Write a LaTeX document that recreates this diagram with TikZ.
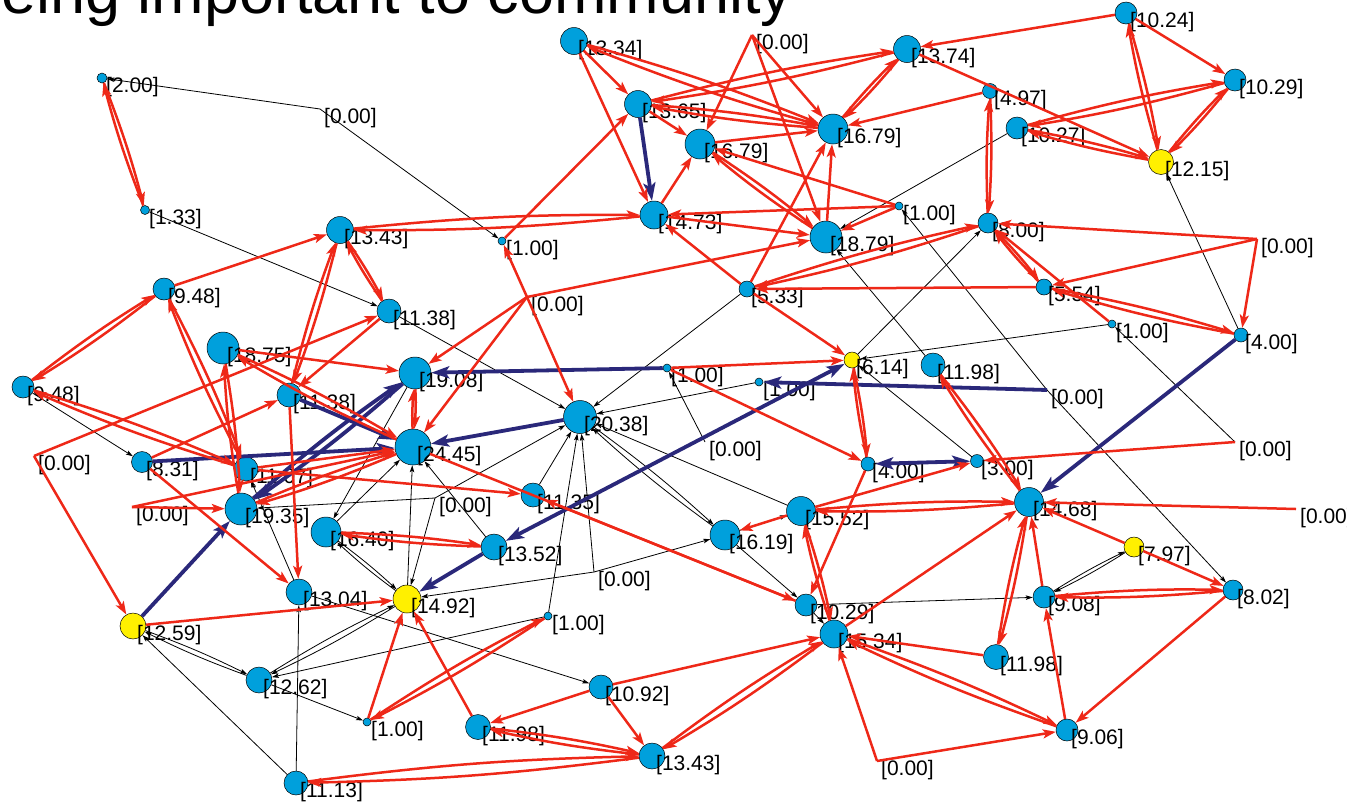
\documentclass[tikz,border=0pt]{standalone}
\usepackage{fontspec}
\setmainfont{Liberation Sans}
\usetikzlibrary{arrows.meta}
\definecolor{nblue}{RGB}{0,160,220}
\definecolor{nyel}{RGB}{255,240,0}
\definecolor{ered}{RGB}{238,40,24}
\definecolor{enavy}{RGB}{42,40,122}
\pgfdeclarelayer{bg}\pgfdeclarelayer{mid}\pgfsetlayers{bg,mid,main}
\tikzset{
 gnode/.style={circle,draw=black,line width=0.5pt,inner sep=0pt},
 lab/.style={anchor=west,inner sep=0pt,font=\fontsize{21}{21}\selectfont,text=black},
 re/.style={draw=ered,line width=2.5pt,-{Stealth[length=13pt,width=9pt,inset=3pt]}},
 ne/.style={draw=enavy,line width=3.8pt,-{Stealth[length=18pt,width=12pt,inset=4pt]}},
 nb/.style={draw=enavy,line width=3.8pt,{Stealth[length=18pt,width=12pt,inset=4pt]}-{Stealth[length=18pt,width=12pt,inset=4pt]}},
 be/.style={draw=black,line width=0.8pt,-{Stealth[length=7pt,width=4.5pt,inset=1.5pt]}},
}
\newcommand{\nd}[6]{%
\begin{pgfonlayer}{bg}\node[gnode,fill=#6,minimum size=#4pt] (#1) at (#2,#3) {};\end{pgfonlayer}%
\begin{pgfonlayer}{mid}\node[lab] (#1l) at (#2+4,#3+9) {[#5]};\end{pgfonlayer}}
\newcommand{\zn}[3]{\coordinate (#1) at (#2,#3);%
\begin{pgfonlayer}{mid}\node[lab] (#1l) at (#2+4,#3+9) {[0.00]};\end{pgfonlayer}}
\newcommand{\pr}[3]{\draw[#1] (#2) to[bend left=3] (#3); \draw[#1] (#3) to[bend left=3] (#2);}
\begin{document}
\begin{tikzpicture}[x=1pt,y=-1pt]
\useasboundingbox (0,0) rectangle (1347,801);
\node[anchor=base west,inner sep=0pt,font=\fontsize{63}{63}\selectfont] (title) at (1,13) {eing important to community};
% nodes
\nd{a}{102}{78}{10}{2.00}{nblue}
\nd{b}{145}{210}{9}{1.33}{nblue}
\nd{c}{340}{230}{27}{13.43}{nblue}
\nd{d}{164}{289}{22}{9.48}{nblue}
\nd{e}{389}{311}{24}{11.38}{nblue}
\nd{f}{223}{348}{32}{18.75}{nblue}
\nd{g}{415}{373}{32}{19.08}{nblue}
\nd{h}{23}{387}{22}{9.48}{nblue}
\nd{i}{289}{395}{24}{11.38}{nblue}
\nd{j}{574}{41}{27}{13.34}{nblue}
\nd{k}{638}{104}{27}{13.65}{nblue}
\nd{l}{700}{144}{30}{16.79}{nblue}
\nd{m}{833}{129}{30}{16.79}{nblue}
\nd{n}{654}{215}{28}{14.73}{nblue}
\nd{o}{826}{237}{32}{18.79}{nblue}
\nd{p}{502}{241}{8}{1.00}{nblue}
\nd{q}{747}{289}{16}{5.33}{nblue}
\nd{r}{852}{360}{16}{6.14}{nyel}
\nd{s}{667}{368}{8}{1.00}{nblue}
\nd{t}{759}{382}{8}{1.00}{nblue}
\nd{u}{580}{417}{33}{20.38}{nblue}
\nd{v}{899}{206}{8}{1.00}{nblue}
\nd{w}{1126}{13}{22}{10.24}{nblue}
\nd{x}{907}{49}{27}{13.74}{nblue}
\nd{y}{990}{91}{15}{4.97}{nblue}
\nd{A}{1235}{80}{22}{10.29}{nblue}
\nd{B}{1017}{128}{22}{10.27}{nblue}
\nd{C}{1161}{162}{25}{12.15}{nyel}
\nd{D}{988}{223}{20}{8.00}{nblue}
\nd{E}{1044}{287}{16}{5.54}{nblue}
\nd{F}{1112}{324}{8}{1.00}{nblue}
\nd{G}{1241}{335}{14}{4.00}{nblue}
\nd{H}{933}{365}{24}{11.98}{nblue}
\nd{I}{142}{462}{21}{8.31}{nblue}
\nd{J}{246}{469}{24}{11.07}{nblue}
\nd{K}{413}{447}{36}{24.45}{nblue}
\nd{L}{241}{509}{32}{19.35}{nblue}
\nd{M}{326}{532}{30}{16.40}{nblue}
\nd{N}{299}{592}{26}{13.04}{nblue}
\nd{O}{407}{599}{28}{14.92}{nyel}
\nd{P}{133}{626}{26}{12.59}{nyel}
\nd{Q}{259}{680}{26}{12.62}{nblue}
\nd{R}{367}{722}{8}{1.00}{nblue}
\nd{S}{296}{783}{24}{11.13}{nblue}
\nd{T}{533}{495}{24}{11.35}{nblue}
\nd{U}{494}{547}{26}{13.52}{nblue}
\nd{V}{548}{616}{8}{1.00}{nblue}
\nd{W}{725}{535}{30}{16.19}{nblue}
\nd{X}{801}{511}{29}{15.52}{nblue}
\nd{Y}{806}{605}{22}{10.29}{nblue}
\nd{Z}{834}{634}{28}{15.34}{nblue}
\nd{aa}{601}{687}{24}{10.92}{nblue}
\nd{bb}{478}{727}{25}{11.98}{nblue}
\nd{cc}{652}{756}{26}{13.43}{nblue}
\nd{dd}{868}{464}{14}{4.00}{nblue}
\nd{ee}{977}{461}{13}{3.00}{nblue}
\nd{ff}{1029}{502}{29}{14.68}{nblue}
\nd{gg}{1134}{547}{20}{7.97}{nyel}
\nd{hh}{1044}{597}{22}{9.08}{nblue}
\nd{ii}{1233}{590}{20}{8.02}{nblue}
\nd{jj}{996}{657}{25}{11.98}{nblue}
\nd{kk}{1067}{730}{22}{9.06}{nblue}
% zero nodes
\zn{za}{320}{109}
\zn{zb}{752}{35}
\zn{zc}{527}{297}
\zn{zd}{1257}{239}
\zn{ze}{1047}{390}
\zn{zf}{34}{456}
\zn{zg}{132}{507}
\zn{zh}{435}{498}
\zn{zi}{705}{442}
\zn{zj}{594}{572}
\zn{zk}{877}{761}
\zn{zl}{1235}{442}
\zn{zm}{1296}{509}
% black edges
\foreach \s/\t in {za/a,za/p,b/e,e/u,q/u,t/u,r/D,F/r,ee/r,zl/F,G/C,B/o,H/o,ze/v,ze/ii,zi/s,h/I,N/J,g/M,M/K,O/K,U/K,zh/u,zh/O,zh/L,S/P,S/N,V/Q,N/aa,Q/R,V/u,zj/u,zj/W,zj/O,T/u,X/u,W/X,W/Y,Y/hh,Y/Z}
  \draw[be] (\s) -- (\t);
\foreach \s/\t in {P/Q,M/O,Q/O,u/W,gg/hh}
  {\pr{be}{\s}{\t}}
% navy edges
\foreach \s/\t in {k/n,s/g,ze/t,G/ff,i/K,I/K,u/K,P/L,U/O}
  \draw[ne] (\s) -- (\t);
\pr{ne}{L}{g}
\draw[nb] (dd) -- (ee);
\draw[nb] (U) -- (r);
% red edges
\foreach \s/\t in {d/c,zf/e,zf/P,e/i,f/g,I/i,I/N,i/N,zg/L,zg/K,J/K,J/T,R/O,bb/O,P/O,aa/bb,aa/cc,aa/Z,j/k,j/n,p/k,k/l,n/l,l/m,zb/l,zb/m,zb/o,y/m,n/o,zc/o,zc/u,zc/p,zc/g,zc/K,q/n,q/m,o/m,q/r,E/q,v/n,v/o,v/l,s/r,s/dd,X/ee,zl/ee,zd/D,zd/E,zd/G,F/D,x/C,w/A,w/x,K/Y,Y/T,X/W,dd/Y,Z/ff,jj/Z,zk/kk,zk/Z,hh/ff,kk/hh,ii/kk,gg/ff,gg/ii,zm/ff}
  \draw[re] (\s) -- (\t);
\foreach \s/\t in {a/b,c/e,c/n,h/d,h/J,d/J,i/c,f/K,f/L,L/K,g/K,j/m,k/x,k/m,l/o,q/D,x/m,y/D,D/E,E/G,B/C,A/B,A/C,w/C,H/ff,r/dd,M/U,R/V,S/cc,bb/cc,cc/Z,Z/X,X/ff,Z/kk,ff/jj,hh/ii}
  {\pr{re}{\s}{\t}}
\end{tikzpicture}
\end{document}
